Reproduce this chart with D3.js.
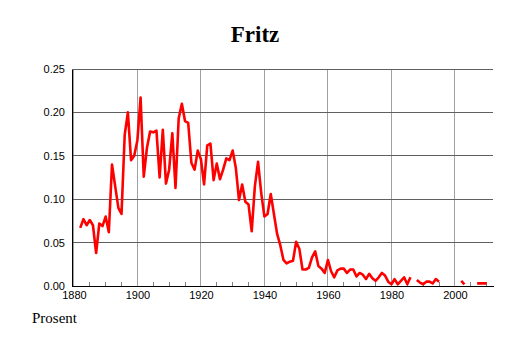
<!DOCTYPE html>
<html>
<head>
<meta charset="utf-8">
<script src="https://cdn.jsdelivr.net/npm/d3@7"></script>
<style>
  body { margin: 0; background: #fff; }
  svg { display: block; }
</style>
</head>
<body>
<svg id="chart" width="514" height="343"></svg>
<script>
// Share of name "Fritz" per year (null = no data)
const years = d3.range(1882, 2011);
const values = [
  0.067, 0.077, 0.070, 0.076, 0.070, 0.038, 0.072, 0.069, 0.080, 0.062,   // 1882-1891
  0.140, 0.115, 0.090, 0.083, 0.174, 0.200, 0.145, 0.150, 0.168, 0.217,   // 1892-1901
  0.126, 0.159, 0.178, 0.177, 0.179, 0.125, 0.180, 0.118, 0.134, 0.176,   // 1902-1911
  0.113, 0.193, 0.210, 0.190, 0.188, 0.142, 0.134, 0.156, 0.146, 0.117,   // 1912-1921
  0.162, 0.164, 0.122, 0.141, 0.123, 0.134, 0.147, 0.145, 0.156, 0.136,   // 1922-1931
  0.099, 0.117, 0.097, 0.094, 0.063, 0.115, 0.143, 0.107, 0.080, 0.083,   // 1932-1941
  0.106, 0.083, 0.060, 0.047, 0.030, 0.026, 0.028, 0.029, 0.051, 0.043,   // 1942-1951
  0.019, 0.019, 0.021, 0.033, 0.040, 0.023, 0.020, 0.015, 0.030, 0.017,   // 1952-1961
  0.010, 0.018, 0.020, 0.020, 0.015, 0.019, 0.019, 0.011, 0.015, 0.013,   // 1962-1971
  0.008, 0.014, 0.009, 0.006, 0.010, 0.015, 0.012, 0.005, 0.002, 0.008,   // 1972-1981
  0.002, 0.006, 0.010, 0.002, 0.010, null,  0.007, 0.004, 0.002, 0.005,   // 1982-1991
  0.005, 0.003, 0.008, 0.005, null,  null,  null,  null,  null,  null,    // 1992-2001
  0.006, 0.002, null,  null,  null,  0.003, 0.003, 0.003, 0.003, 0.005    // 2002-2010
];
const yTicks = [0, 0.05, 0.10, 0.15, 0.20, 0.25];
const xTicks = [1880, 1900, 1920, 1940, 1960, 1980, 2000];

const data = years.map((y, i) => ({ year: y, value: values[i] }));

const svg = d3.select('#chart');
const margin = { left: 72, right: 21, top: 69, bottom: 57 };
const width = 514 - margin.left - margin.right;
const height = 343 - margin.top - margin.bottom;

const x = d3.scaleLinear().domain([1879.4, 2012]).range([0, width]);
const y = d3.scaleLinear().domain([0, 0.25]).range([height, 0]);

const g = svg.append('g').attr('transform', `translate(${margin.left},${margin.top})`);

// Title
svg.append('text')
  .attr('x', 255).attr('y', 42)
  .attr('text-anchor', 'middle')
  .attr('font-family', 'Liberation Serif, serif')
  .attr('font-weight', 'bold')
  .attr('font-size', '23px')
  .text('Fritz');

// Vertical grid
g.append('g')
  .selectAll('line')
  .data(xTicks)
  .join('line')
  .attr('x1', d => x(d)).attr('x2', d => x(d))
  .attr('y1', 0).attr('y2', height)
  .attr('stroke', '#a0a0a0')
  .attr('stroke-width', 1)
  .attr('shape-rendering', 'crispEdges');

// Horizontal grid
g.append('g')
  .selectAll('line')
  .data(yTicks.filter(d => d > 0))
  .join('line')
  .attr('x1', 0).attr('x2', width)
  .attr('y1', d => y(d)).attr('y2', d => y(d))
  .attr('stroke', '#606060')
  .attr('stroke-width', 1)
  .attr('shape-rendering', 'crispEdges');

// X axis
const xAxis = g.append('g')
  .attr('transform', `translate(0,${height})`)
  .call(d3.axisBottom(x).tickValues(xTicks).tickSize(0).tickPadding(5).tickFormat(d3.format('d')));
xAxis.select('.domain').attr('stroke', '#000').attr('shape-rendering', 'crispEdges');
xAxis.selectAll('text')
  .attr('font-family', 'Liberation Sans, Arial, sans-serif')
  .attr('font-size', '11px')
  .attr('fill', '#000');

// Minor ticks every 5 years
g.append('g')
  .selectAll('line')
  .data(d3.range(1885, 2012, 5).filter(d => d % 20 !== 0))
  .join('line')
  .attr('x1', d => x(d)).attr('x2', d => x(d))
  .attr('y1', height).attr('y2', height - 4)
  .attr('stroke', '#808080')
  .attr('shape-rendering', 'crispEdges');

// Y axis
const yAxis = g.append('g')
  .call(d3.axisLeft(y).tickValues(yTicks).tickSize(0).tickPadding(7).tickFormat(d3.format('.2f')));
yAxis.select('.domain').attr('stroke', '#000').attr('shape-rendering', 'crispEdges');
yAxis.selectAll('text')
  .attr('font-family', 'Liberation Sans, Arial, sans-serif')
  .attr('font-size', '11px')
  .attr('fill', '#000');

// Data line
const line = d3.line()
  .defined(d => d.value !== null)
  .x(d => x(d.year))
  .y(d => y(d.value));

g.append('path')
  .datum(data)
  .attr('fill', 'none')
  .attr('stroke', '#ff0000')
  .attr('stroke-width', 2.6)
  .attr('stroke-linejoin', 'round')
  .attr('d', line);

// Footer label
svg.append('text')
  .attr('x', 32).attr('y', 323)
  .attr('font-family', 'Liberation Serif, serif')
  .attr('font-size', '15px')
  .text('Prosent');
</script>
</body>
</html>
